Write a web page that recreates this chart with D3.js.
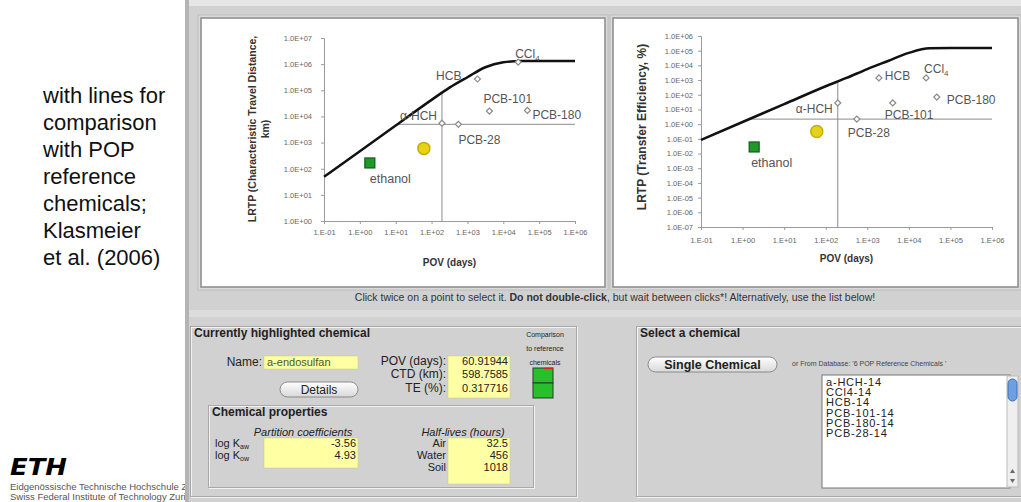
<!DOCTYPE html>
<html>
<head>
<meta charset="utf-8">
<script src="https://cdn.jsdelivr.net/npm/d3@7"></script>
<style>
body{margin:0;background:#fff;}
svg{display:block;font-family:"Liberation Sans",Arial,sans-serif;}
</style>
</head>
<body>
<script>
//reference chemicals
var chemNames = ["CCl4", "HCB", "PCB-101", "PCB-180", "α-HCH", "PCB-28"];
var chemPov = [26000, 1900, 4100, 47000, 195, 560];      //days
var chemCtd = [1.2e6, 2.7e5, 1.6e4, 1.7e4, 5500, 5000];  //km
var chemTe = [1400, 1400, 28, 70, 28, 2.2];              //%

//ethanol and the highlighted chemical (a-endosulfan)
var ethanolPov = 1.9, ethanolCtd = 166, ethanolTe = 0.028;
var selName = "a-endosulfan";
var selPov = 60.91944, selCtd = 598.7585, selTe = 0.317716;

//upper limit curves
var curvePov = [0.1, 1, 10, 100, 316, 1000, 3160, 10000, 31600, 100000, 1000000];
var curveCtd = [49, 470, 4500, 43000, 126000, 316000, 760000, 1170000, 1320000, 1320000, 1320000];
var curveTe = [0.085, 1.4, 23, 380, 1400, 5600, 20000, 71000, 145000, 150000, 150000];

//axis ticks
var povTicks = [1e-1, 1e0, 1e1, 1e2, 1e3, 1e4, 1e5, 1e6];
var ctdTicks = [1e0, 1e1, 1e2, 1e3, 1e4, 1e5, 1e6, 1e7];
var teTicks = [1e-7, 1e-6, 1e-5, 1e-4, 1e-3, 1e-2, 1e-1, 1e0, 1e1, 1e2, 1e3, 1e4, 1e5, 1e6];

//property table
var propLabels = ["aw", "ow"];
var propValues = ["-3.56", "4.93"];
var halfLabels = ["Air", "Water", "Soil"];
var halfValues = ["32.5", "456", "1018"];
var listItems = ["a-HCH-14", "CCl4-14", "HCB-14", "PCB-101-14", "PCB-180-14", "PCB-28-14"];
var noteLines = ["with lines for", "comparison", "with POP", "reference", "chemicals;", "Klasmeier", "et al. (2006)"];

(function(){

	var width = 1021, height = 502;

	var svg = d3.select("body").append("svg")
		.attr("width", width)
		.attr("height", height);

	var defs = svg.append("defs");
	var grad = defs.append("linearGradient").attr("id", "btn").attr("x1", 0).attr("x2", 0).attr("y1", 0).attr("y2", 1);
	grad.append("stop").attr("offset", "0%").attr("stop-color", "#ffffff");
	grad.append("stop").attr("offset", "100%").attr("stop-color", "#d8d8d8");

	//slide text on the left
	svg.selectAll(".note").data(noteLines).enter().append("text")
		.attr("x", 43).attr("y", function(d, i){ return 103 + i * 27; })
		.style("font-size", "22px").attr("fill", "#111")
		.text(function(d){ return d; });

	svg.append("text").attr("x", 10).attr("y", 475)
		.attr("textLength", 57).attr("lengthAdjust", "spacingAndGlyphs")
		.style("font-family", "DejaVu Sans").style("font-weight", "bold").style("font-style", "italic")
		.style("font-size", "23px").attr("fill", "#000").text("ETH");
	svg.append("text").attr("x", 10).attr("y", 490).style("font-size", "9.5px").attr("fill", "#555")
		.text("Eidgenössische Technische Hochschule Zürich");
	svg.append("text").attr("x", 10).attr("y", 500).style("font-size", "9.5px").attr("fill", "#555")
		.text("Swiss Federal Institute of Technology Zurich");

	//application window
	svg.append("rect").attr("x", 185).attr("y", 0).attr("width", width - 185).attr("height", height).attr("fill", "#d1d1d1");
	svg.append("rect").attr("x", 185).attr("y", 0).attr("width", width - 185).attr("height", 6).attr("fill", "#e6e6e6");
	svg.append("rect").attr("x", 185).attr("y", 0).attr("width", 4).attr("height", height).attr("fill", "#b4b4b4");
	svg.append("rect").attr("x", 189).attr("y", 310).attr("width", width - 189).attr("height", 7).attr("fill", "#dcdcdc");

	function fmtY(d){
		var e = Math.round(Math.log10(d));
		return "1.0E" + (e < 0 ? "-" : "+") + (Math.abs(e) < 10 ? "0" : "") + Math.abs(e);
	}
	function fmtX(d){
		var e = Math.round(Math.log10(d));
		return "1.E" + (e < 0 ? "-" : "+") + (Math.abs(e) < 10 ? "0" : "") + Math.abs(e);
	}

	//linear interpolation in log space along the limit curve
	function curveAt(xs, ys, xv){
		var lx = Math.log10(xv);
		for (var i = 0; i < xs.length - 1; i++){
			var a = Math.log10(xs[i]), b = Math.log10(xs[i + 1]);
			if (lx >= a && lx <= b){
				var t = (lx - a) / (b - a);
				return Math.pow(10, Math.log10(ys[i]) + t * (Math.log10(ys[i + 1]) - Math.log10(ys[i])));
			}
		}
		return ys[ys.length - 1];
	}
	function curveInv(xs, ys, yv){
		var ly = Math.log10(yv);
		for (var i = 0; i < ys.length - 1; i++){
			var a = Math.log10(ys[i]), b = Math.log10(ys[i + 1]);
			if (ly >= a && ly <= b && b > a){
				var t = (ly - a) / (b - a);
				return Math.pow(10, Math.log10(xs[i]) + t * (Math.log10(xs[i + 1]) - Math.log10(xs[i])));
			}
		}
		return xs[0];
	}

	function drawPanel(cfg){
		var g = svg.append("g");

		g.append("rect").attr("x", cfg.box[0] - 3).attr("y", cfg.box[1] - 3)
			.attr("width", cfg.box[2] + 6).attr("height", cfg.box[3] + 6)
			.attr("fill", "#dadada").attr("stroke", "#bcbcbc");
		g.append("rect").attr("x", cfg.box[0]).attr("y", cfg.box[1])
			.attr("width", cfg.box[2]).attr("height", cfg.box[3])
			.attr("fill", "#fff").attr("stroke", "#8a8a8a").attr("stroke-width", 1.5);

		var x = d3.scaleLog().domain([0.1, 1e6]).range(cfg.xr);
		var y = d3.scaleLog().domain(cfg.yd).range(cfg.yr);

		//reference lines through the POP reference chemicals
		var refX = chemPov[chemNames.indexOf("α-HCH")];
		var refY = cfg.vals[chemNames.indexOf("PCB-28")];
		g.append("line")
			.attr("x1", x(refX)).attr("x2", x(refX))
			.attr("y1", y(cfg.yd[0])).attr("y2", y(curveAt(curvePov, cfg.curve, refX)))
			.attr("stroke", "#8c8c8c").attr("stroke-width", 1);
		g.append("line")
			.attr("x1", x(curveInv(curvePov, cfg.curve, refY))).attr("x2", x(1e6))
			.attr("y1", y(refY)).attr("y2", y(refY))
			.attr("stroke", "#8c8c8c").attr("stroke-width", 1);

		var yAxis = g.append("g").attr("transform", "translate(" + cfg.xr[0] + ",0)")
			.call(d3.axisLeft(y).tickValues(cfg.ticks).tickFormat(fmtY).tickSize(3).tickPadding(cfg.yPad));
		var xAxis = g.append("g").attr("transform", "translate(0," + cfg.yr[0] + ")")
			.call(d3.axisBottom(x).tickValues(povTicks).tickFormat(fmtX).tickSize(3).tickPadding(cfg.xPad));
		[yAxis, xAxis].forEach(function(a){
			a.select(".domain").attr("stroke", "#9a9a9a");
			a.selectAll(".tick line").attr("stroke", "#9a9a9a");
			a.selectAll(".tick text").attr("fill", "#666").style("font-size", "7.5px").style("font-family", "Liberation Sans");
		});

		//upper limit curve
		var line = d3.line()
			.x(function(d){ return x(d[0]); })
			.y(function(d){ return y(d[1]); })
			.curve(d3.curveMonotoneX);
		g.append("path")
			.datum(curvePov.map(function(p, i){ return [p, cfg.curve[i]]; }))
			.attr("d", line)
			.attr("fill", "none").attr("stroke", "#111").attr("stroke-width", 2.5);

		//reference chemicals
		var pts = chemNames.map(function(n, i){ return {name: n, pov: chemPov[i], val: cfg.vals[i]}; });
		var diamond = d3.symbol().type(d3.symbolSquare).size(18);
		g.selectAll(".ref").data(pts).enter().append("path")
			.attr("d", diamond)
			.attr("transform", function(d){ return "translate(" + x(d.pov) + "," + y(d.val) + ") rotate(45)"; })
			.attr("fill", "#fff").attr("stroke", "#8a8a8a").attr("stroke-width", 1.2);

		var lab = g.selectAll(".lab").data(pts).enter().append("text")
			.attr("x", function(d){ return x(d.pov) + cfg.off[d.name][0]; })
			.attr("y", function(d){ return y(d.val) + cfg.off[d.name][1]; })
			.attr("text-anchor", function(d){ return cfg.off[d.name][2]; })
			.attr("fill", "#555").style("font-size", "12px");
		lab.each(function(d){
			var t = d3.select(this);
			if (d.name === "CCl4"){
				t.append("tspan").text("CCl");
				t.append("tspan").attr("dy", 3).style("font-size", "8px").text("4");
			} else {
				t.text(d.name);
			}
		});

		//ethanol
		g.append("rect")
			.attr("x", x(ethanolPov) - 5).attr("y", y(cfg.eth) - 5)
			.attr("width", 10).attr("height", 10)
			.attr("fill", "#1f9a2a").attr("stroke", "#0d5f14").attr("stroke-width", 1.2);
		g.append("text")
			.attr("x", x(ethanolPov) + cfg.ethOff[0]).attr("y", y(cfg.eth) + cfg.ethOff[1])
			.attr("fill", "#555").style("font-size", "12.5px").text("ethanol");

		//highlighted chemical
		g.append("circle")
			.attr("cx", x(selPov)).attr("cy", y(cfg.sel)).attr("r", 6)
			.attr("fill", "#e6d414").attr("stroke", "#c4ae00").attr("stroke-width", 1.5);

		//axis titles
		g.append("text")
			.attr("x", (cfg.xr[0] + cfg.xr[1]) / 2).attr("y", cfg.xTitleY)
			.attr("text-anchor", "middle").attr("fill", "#333")
			.style("font-size", "10px").style("font-weight", "bold").text("POV (days)");
		cfg.yTitle.forEach(function(s, i){
			g.append("text")
				.attr("transform", "translate(" + (cfg.yTitleX + i * 13) + "," + cfg.yTitleMid + ") rotate(-90)")
				.attr("text-anchor", "middle").attr("fill", "#333")
				.style("font-size", cfg.yTitleSize).style("font-weight", "bold").text(s);
		});
	}

	drawPanel({
		box: [201, 18, 404, 269],
		xr: [324, 575], yr: [221, 38], yd: [1, 1e7],
		ticks: ctdTicks, vals: chemCtd, curve: curveCtd,
		eth: ethanolCtd, sel: selCtd,
		yPad: 9, xPad: 6, xTitleY: 266,
		yTitle: ["LRTP (Characteristic Travel Distance,", "km)"], yTitleX: 256, yTitleMid: 129, yTitleSize: "10.5px",
		ethOff: [0, 20],
		off: {
			"CCl4": [-3, -4, "start"], "HCB": [-16, 1, "end"], "PCB-101": [-6, -8, "start"],
			"PCB-180": [5, 9, "start"], "α-HCH": [-5, -3, "end"], "PCB-28": [0, 20, "start"]
		}
	});

	drawPanel({
		box: [613, 18, 405, 269],
		xr: [701, 992], yr: [227, 36], yd: [1e-7, 1e6],
		ticks: teTicks, vals: chemTe, curve: curveTe,
		eth: ethanolTe, sel: selTe,
		yPad: 5, xPad: 8, xTitleY: 262,
		yTitle: ["LRTP (Transfer Efficiency, %)"], yTitleX: 646, yTitleMid: 127, yTitleSize: "12px",
		ethOff: [-3, 20],
		off: {
			"CCl4": [-2, -5, "start"], "HCB": [6, 2, "start"], "PCB-101": [-8, 16, "start"],
			"PCB-180": [10, 7, "start"], "α-HCH": [-5, 10, "end"], "PCB-28": [-9, 18, "start"]
		}
	});

	//instruction line
	var ins = svg.append("text").attr("x", 615).attr("y", 301).attr("text-anchor", "middle")
		.attr("fill", "#333").style("font-size", "10.5px");
	ins.append("tspan").text("Click twice on a point to select it. ");
	ins.append("tspan").style("font-weight", "bold").text("Do not double-click");
	ins.append("tspan").text(", but wait between clicks*! Alternatively, use the list below!");

	function etched(x0, y0, w, h){
		svg.append("rect").attr("x", x0 + 1).attr("y", y0 + 1).attr("width", w).attr("height", h)
			.attr("fill", "none").attr("stroke", "#f2f2f2");
		svg.append("rect").attr("x", x0).attr("y", y0).attr("width", w).attr("height", h)
			.attr("fill", "none").attr("stroke", "#a8a8a8");
	}
	function label(x0, y0, s, anchor, size, weight, style){
		return svg.append("text").attr("x", x0).attr("y", y0)
			.attr("text-anchor", anchor || "start").attr("fill", "#222")
			.style("font-size", size || "12px").style("font-weight", weight || "normal")
			.style("font-style", style || "normal").text(s);
	}
	function yellow(x0, y0, w, h){
		svg.append("rect").attr("x", x0).attr("y", y0).attr("width", w).attr("height", h)
			.attr("fill", "#ffffa4").attr("stroke", "#c9c98a").attr("stroke-width", 0.5);
	}
	function button(x0, y0, w, h, s, weight, size){
		svg.append("rect").attr("x", x0).attr("y", y0).attr("width", w).attr("height", h)
			.attr("rx", h / 2).attr("fill", "url(#btn)").attr("stroke", "#8a8a8a");
		label(x0 + w / 2, y0 + h - 3.5, s, "middle", size || "12px", weight);
	}

	//currently highlighted chemical
	etched(190.5, 326.5, 386, 170);
	label(194, 337, "Currently highlighted chemical", "start", "12px", "bold");
	["Comparison", "to reference", "chemicals"].forEach(function(s, i){
		label(545, 337 + i * 14, s, "middle", "7px");
	});
	svg.append("rect").attr("x", 533).attr("y", 368).attr("width", 20).attr("height", 15).attr("fill", "#27c02a").attr("stroke", "#2b3a2b");
	svg.append("rect").attr("x", 533).attr("y", 383).attr("width", 20).attr("height", 15).attr("fill", "#27c02a").attr("stroke", "#2b3a2b");
	svg.append("line").attr("x1", 544).attr("x2", 553).attr("y1", 368.5).attr("y2", 368.5).attr("stroke", "#d22").attr("stroke-width", 1.5);

	label(262, 366, "Name:", "end");
	yellow(264, 356, 94, 13);
	label(267, 366, selName, "start", "11px").attr("fill", "#4e5a22");
	button(280, 382, 78, 15, "Details");

	label(446, 365, "POV (days):", "end");
	label(446, 378, "CTD (km):", "end");
	label(446, 392, "TE (%):", "end");
	yellow(448, 356, 62, 42);
	[selPov, selCtd, selTe].forEach(function(v, i){
		label(508, 365 + [0, 13, 27][i], String(v), "end", "11px");
	});

	etched(208.5, 405.5, 325, 82);
	label(212, 416, "Chemical properties", "start", "12px", "bold");
	label(303, 436, "Partition coefficients", "middle", "11px", "normal", "italic");
	label(463, 436, "Half-lives (hours)", "middle", "11px", "normal", "italic");

	yellow(264, 438, 94, 30);
	propLabels.forEach(function(s, i){
		var t = label(215, 447 + i * 12, "log K", "start", "11px");
		t.append("tspan").attr("dy", 2).style("font-size", "7px").text(s);
		label(356, 447 + i * 12, propValues[i], "end", "11px");
	});
	yellow(448, 438, 62, 46);
	halfLabels.forEach(function(s, i){
		label(446, 447 + i * 12, s, "end", "11px");
		label(508, 447 + i * 12, halfValues[i], "end", "11px");
	});

	//select a chemical
	etched(636.5, 326.5, 390, 170);
	label(640, 337, "Select a chemical", "start", "12px", "bold");
	button(648, 357, 129, 15, "Single Chemical", "bold", "12.5px");
	label(792, 366, "or From Database: '6 POP Reference Chemicals '", "start", "7px").attr("fill", "#444");

	svg.append("rect").attr("x", 822).attr("y", 375).attr("width", 188).attr("height", 113)
		.attr("fill", "#fff").attr("stroke", "#777");
	svg.selectAll(".item").data(listItems).enter().append("text")
		.attr("x", 826).attr("y", function(d, i){ return 386 + i * 10.2; })
		.attr("fill", "#222").style("font-size", "11px").style("letter-spacing", "0.8px")
		.text(function(d){ return d; });
	svg.append("rect").attr("x", 1007).attr("y", 376).attr("width", 11).attr("height", 111)
		.attr("fill", "#efefef").attr("stroke", "#bbb");
	svg.append("rect").attr("x", 1008).attr("y", 379).attr("width", 9).attr("height", 22).attr("rx", 4.5)
		.attr("fill", "#6d9fe3").attr("stroke", "#3f6fb8");
	svg.append("path").attr("d", "M1010,473 L1015,473 L1012.5,469 Z").attr("fill", "#666");
	svg.append("path").attr("d", "M1010,479 L1015,479 L1012.5,483 Z").attr("fill", "#666");

})();
</script>
</body>
</html>
